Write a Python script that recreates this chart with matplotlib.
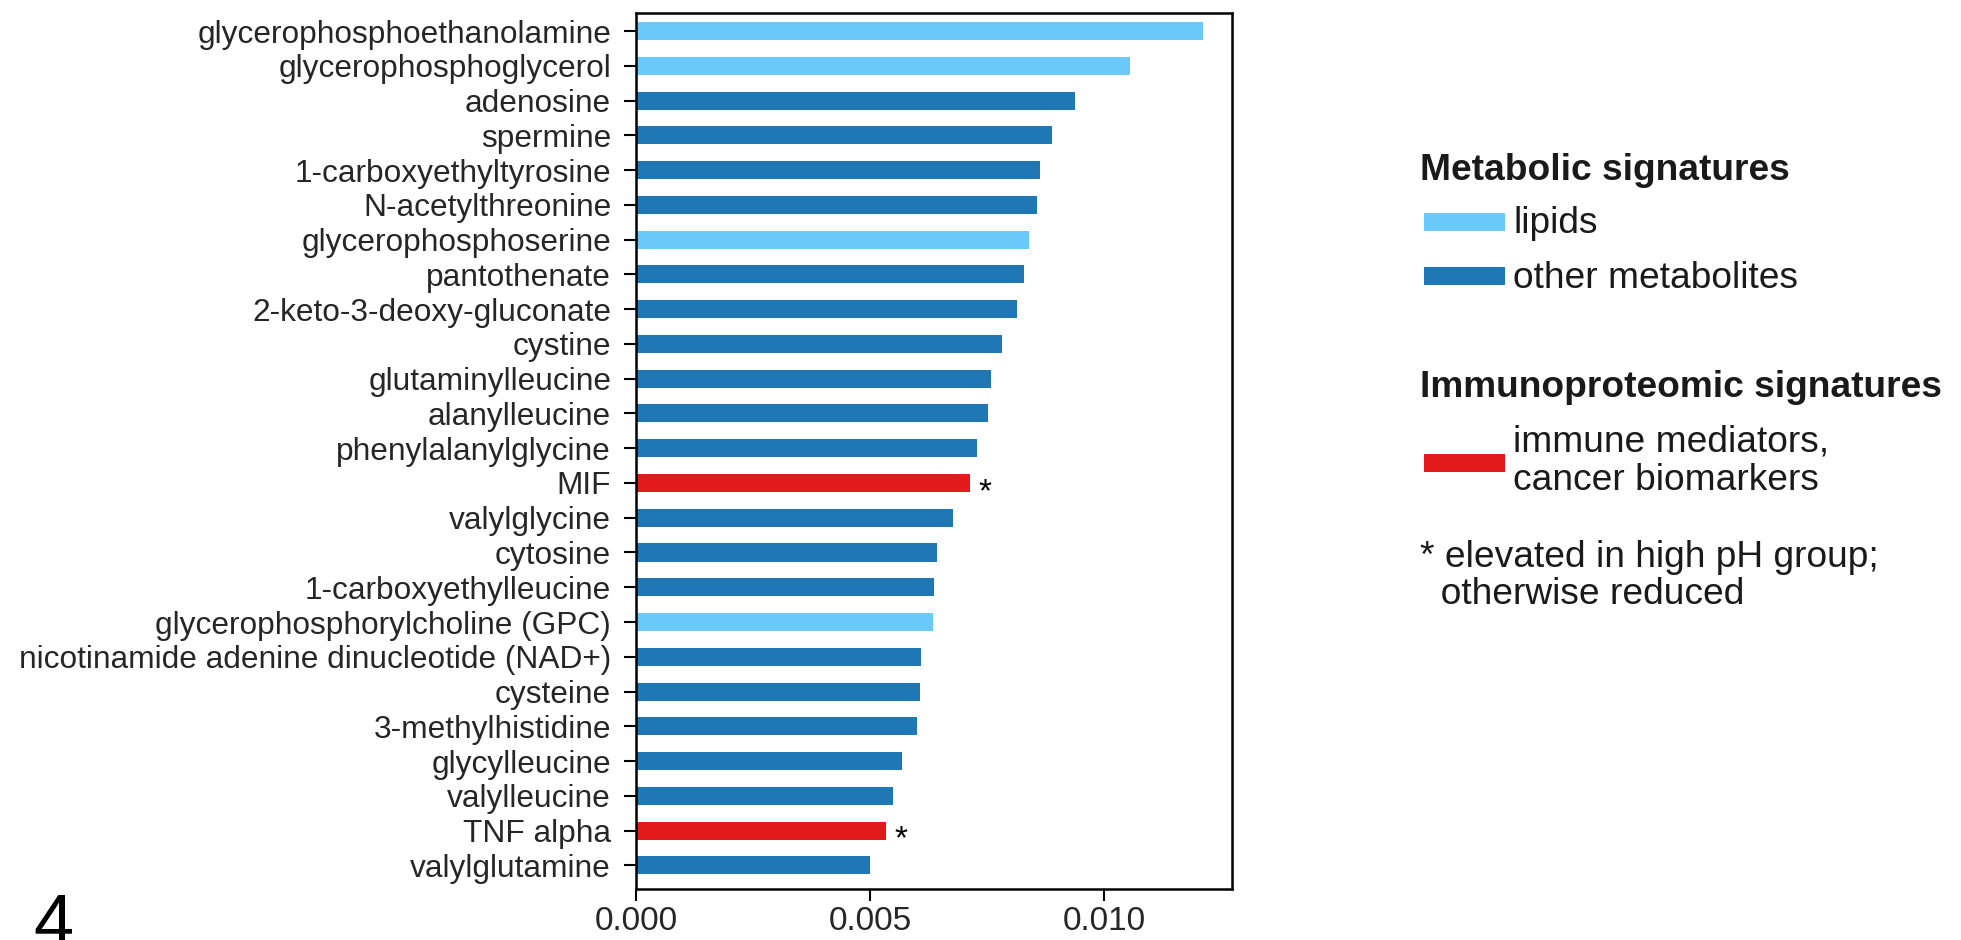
import matplotlib
matplotlib.use('Agg')
import matplotlib.pyplot as plt
from matplotlib.patches import Rectangle
import numpy as np

plt.rcParams['font.family'] = ['Liberation Sans', 'DejaVu Sans']

# ---------------- data ----------------
labels = [
    "glycerophosphoethanolamine",
    "glycerophosphoglycerol",
    "adenosine",
    "spermine",
    "1-carboxyethyltyrosine",
    "N-acetylthreonine",
    "glycerophosphoserine",
    "pantothenate",
    "2-keto-3-deoxy-gluconate",
    "cystine",
    "glutaminylleucine",
    "alanylleucine",
    "phenylalanylglycine",
    "MIF",
    "valylglycine",
    "cytosine",
    "1-carboxyethylleucine",
    "glycerophosphorylcholine (GPC)",
    "nicotinamide adenine dinucleotide (NAD+)",
    "cysteine",
    "3-methylhistidine",
    "glycylleucine",
    "valylleucine",
    "TNF alpha",
    "valylglutamine",
]
values = [
    0.01213, 0.01055, 0.00938, 0.00890, 0.00863, 0.00857, 0.00839, 0.00830,
    0.00814, 0.00782, 0.00758, 0.00752, 0.00728, 0.00713, 0.00677, 0.00643,
    0.00636, 0.00635, 0.00609, 0.00607, 0.00600, 0.00568, 0.00549, 0.00534,
    0.00500,
]
groups = [
    "lipids", "lipids", "other", "other", "other", "other", "lipids", "other",
    "other", "other", "other", "other", "other", "immune", "other", "other",
    "other", "lipids", "other", "other", "other", "other", "other", "immune",
    "other",
]
elevated = ["MIF", "TNF alpha"]
xticks = [0.0, 0.005, 0.010]
xticklabels = ["0.000", "0.005", "0.010"]

palette = {"lipids": "#6AC8FA", "other": "#1F77B4", "immune": "#E31A1C"}
legend_metabolic = [("lipids", "lipids"), ("other", "other metabolites")]
legend_immune_lines = ["immune mediators,", "cancer biomarkers"]
footnote_lines = ["* elevated in high pH group;", "  otherwise reduced"]

# ---------------- figure ----------------
W, H = 1961, 940
fig = plt.figure(figsize=(W / 100, H / 100), dpi=100)

def fx(x):
    return x / W

def fy(y):
    return 1 - y / H

ax_l, ax_r, ax_t, ax_b = 636, 1232.3, 13.3, 889
ax = fig.add_axes([fx(ax_l), fy(ax_b), (ax_r - ax_l) / W, (ax_b - ax_t) / H])

n = len(labels)
pos = np.arange(n)[::-1]
ax.barh(pos, values, height=0.52, color=[palette[g] for g in groups], zorder=2)
ax.set_ylim(-0.68, n - 1 + 0.51)
ax.set_xlim(0, 0.012746)
ax.set_yticks(pos)
ax.set_yticklabels(labels, fontsize=22.8, color="#262626")
ax.set_xticks(xticks)
ax.set_xticklabels(xticklabels, fontsize=24, color="#262626")
ax.tick_params(axis="y", length=8.4, width=1.5, pad=9.5, color="black")
ax.tick_params(axis="x", length=8.6, width=1.5, pad=4, color="black")
for s in ax.spines.values():
    s.set_linewidth(1.8)
    s.set_color("black")

for lab, v, p in zip(labels, values, pos):
    if lab in elevated:
        ax.text(v + 0.00018, p - 0.52, "*", fontsize=24, ha="left",
                va="baseline", color="black")

# ---------------- legend (manual) ----------------
tc = "#1a1a1a"
fs = 26.7
fig.text(fx(1420), fy(180), "Metabolic signatures", fontsize=fs,
         fontweight="bold", ha="left", va="baseline", color=tc)

patch_x0, patch_x1 = 1424, 1505
rows = [(212.7, 230.7, 233.3), (266.7, 285, 288.3)]
for (key, txt), (y0, y1, yb) in zip(legend_metabolic, rows):
    fig.patches.append(Rectangle((fx(patch_x0), fy(y1)), (patch_x1 - patch_x0) / W,
                                 (y1 - y0) / H, transform=fig.transFigure,
                                 facecolor=palette[key], edgecolor="none"))
    fig.text(fx(1513), fy(yb), txt, fontsize=fs, ha="left", va="baseline",
             color=tc)

fig.text(fx(1420), fy(396.7), "Immunoproteomic signatures", fontsize=fs,
         fontweight="bold", ha="left", va="baseline", color=tc)
fig.patches.append(Rectangle((fx(patch_x0), fy(471.7)), (patch_x1 - patch_x0) / W,
                             (471.7 - 454) / H, transform=fig.transFigure,
                             facecolor=palette["immune"], edgecolor="none"))
for txt, yb in zip(legend_immune_lines, [451.7, 490]):
    fig.text(fx(1513), fy(yb), txt, fontsize=fs, ha="left", va="baseline",
             color=tc)

for txt, yb in zip(footnote_lines, [566.7, 604]):
    fig.text(fx(1420), fy(yb), txt, fontsize=fs, ha="left", va="baseline",
             color=tc)

# panel label
fig.text(fx(33), fy(945), "4", fontsize=52, ha="left", va="baseline",
         color="black")

fig.savefig("out.png", dpi=100)
